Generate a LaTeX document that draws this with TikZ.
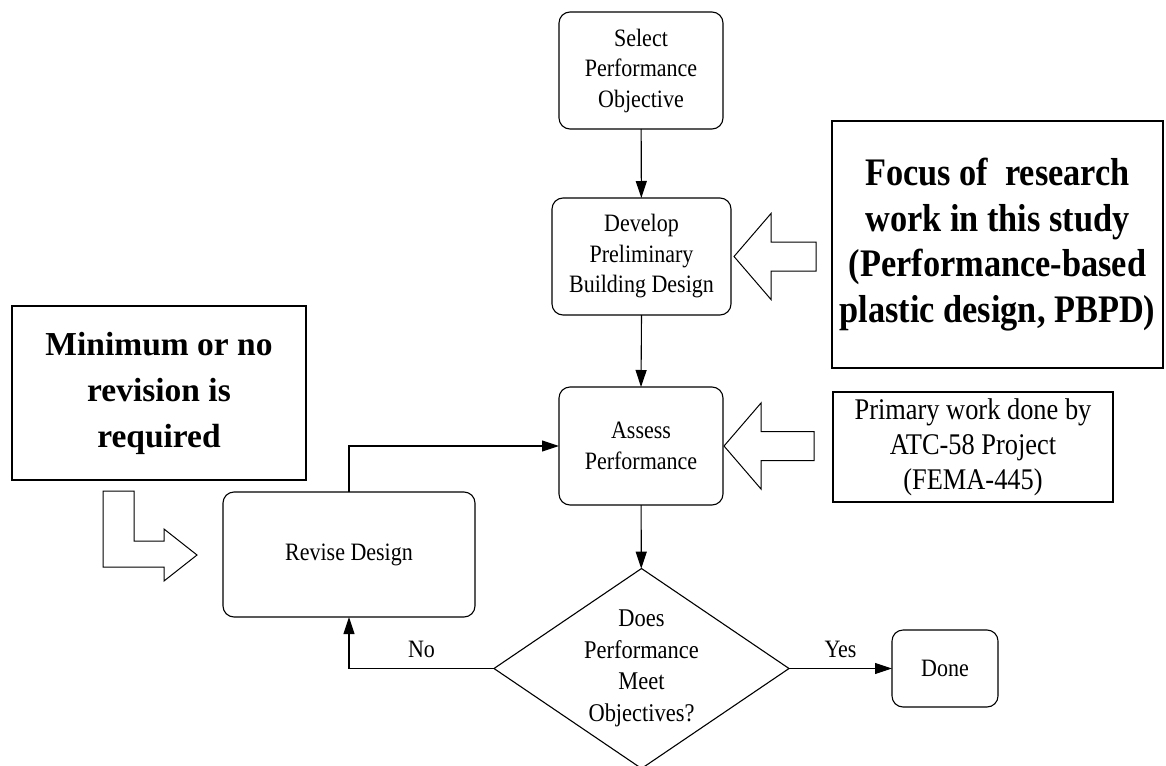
\documentclass[tikz,border=0pt]{standalone}
\usepackage{fontspec}
\setmainfont{Liberation Serif}[FakeStretch=0.88]
\newfontfamily\focusfamily{Liberation Serif}[FakeStretch=0.88]
\newfontfamily\plainfamily{Liberation Serif}
\usetikzlibrary{arrows.meta,shapes.geometric}

\begin{document}
\begin{tikzpicture}[x=1pt,y=-1pt,
  line width=1.1pt,
  every node/.style={inner sep=0pt, outer sep=0pt},
  procbox/.style={draw, rounded corners=11pt, align=center,
    font=\fontsize{25}{30.5}\selectfont},
  decision/.style={draw, diamond, aspect=1.5, align=center,
    font=\fontsize{25.5}{31.5}\selectfont},
  notebox/.style={draw, align=center},
  flow/.style={-{Triangle[length=17pt,width=11pt]}},
  blockarrow/.style={draw, line width=1pt, fill=white},
  lbl/.style={font=\fontsize{25}{30}\selectfont}
]
\useasboundingbox (0,0) rectangle (1166,765);

% main process column
\node[procbox, minimum width=164pt, minimum height=117pt] (select) at (641,70.5)
  {Select\\Performance\\Objective};
\node[procbox, minimum width=179pt, minimum height=117pt] (develop) at (641.5,256.5)
  {Develop\\Preliminary\\Building Design};
\node[procbox, minimum width=164pt, minimum height=118pt] (assess) at (641,446)
  {Assess\\Performance};
\node[decision, minimum width=295pt, minimum height=200pt] (check) at (641.5,668.5)
  {Does\\Performance\\Meet\\Objectives?};
\node[procbox, minimum width=106pt, minimum height=77pt] (done) at (945,668.5)
  {Done};
\node[procbox, minimum width=252pt, minimum height=125pt] (revise) at (349,554.5)
  {Revise Design};

% side notes
\node[notebox, minimum width=294pt, minimum height=174pt,
  font=\plainfamily\bfseries\fontsize{33.5}{46}\selectfont] (minnote) at (159,393)
  {Minimum or no\\revision is\\required};
\node[notebox, minimum width=331pt, minimum height=247pt,
  font=\focusfamily\bfseries\fontsize{39}{45.5}\selectfont] (focus) at (997.5,244.5)
  {Focus of~ research\\work in this study\\(Performance-based\\plastic design, PBPD)};
\node[notebox, minimum width=280pt, minimum height=110pt,
  font=\fontsize{30}{35}\selectfont] (atc) at (973,447)
  {Primary work done by\\ATC-58 Project\\(FEMA-445)};

% connectors
\draw[flow] (select) -- (develop);
\draw[flow] (develop.south) -- (assess.north);
\draw[flow] (assess) -- (check);
\draw[flow] (check.east) -- node[lbl, above=11pt] {Yes} (done.west);
\draw[flow] (check.west) -- node[lbl, above=11pt] {No} (revise.south |- check.west)
  -- (revise.south);
\draw[flow] (revise.north) |- (assess.west);

% hollow block arrows
\draw[blockarrow] ([xshift=3pt]develop.east) -- ++(37,-43) -- ++(0,28.5)
  -- ++(45,0) -- ++(0,29) -- ++(-45,0) -- ++(0,28.5) -- cycle;
\draw[blockarrow] ([xshift=1pt]assess.east) -- ++(37,-43) -- ++(0,28.5)
  -- ++(53,0) -- ++(0,29) -- ++(-53,0) -- ++(0,28.5) -- cycle;
\draw[blockarrow] (103,491) -- (134,491) -- (134,541) -- (164,541) -- (164,529)
  -- (197,555) -- (164,581) -- (164,567) -- (103,567) -- cycle;
\end{tikzpicture}
\end{document}
